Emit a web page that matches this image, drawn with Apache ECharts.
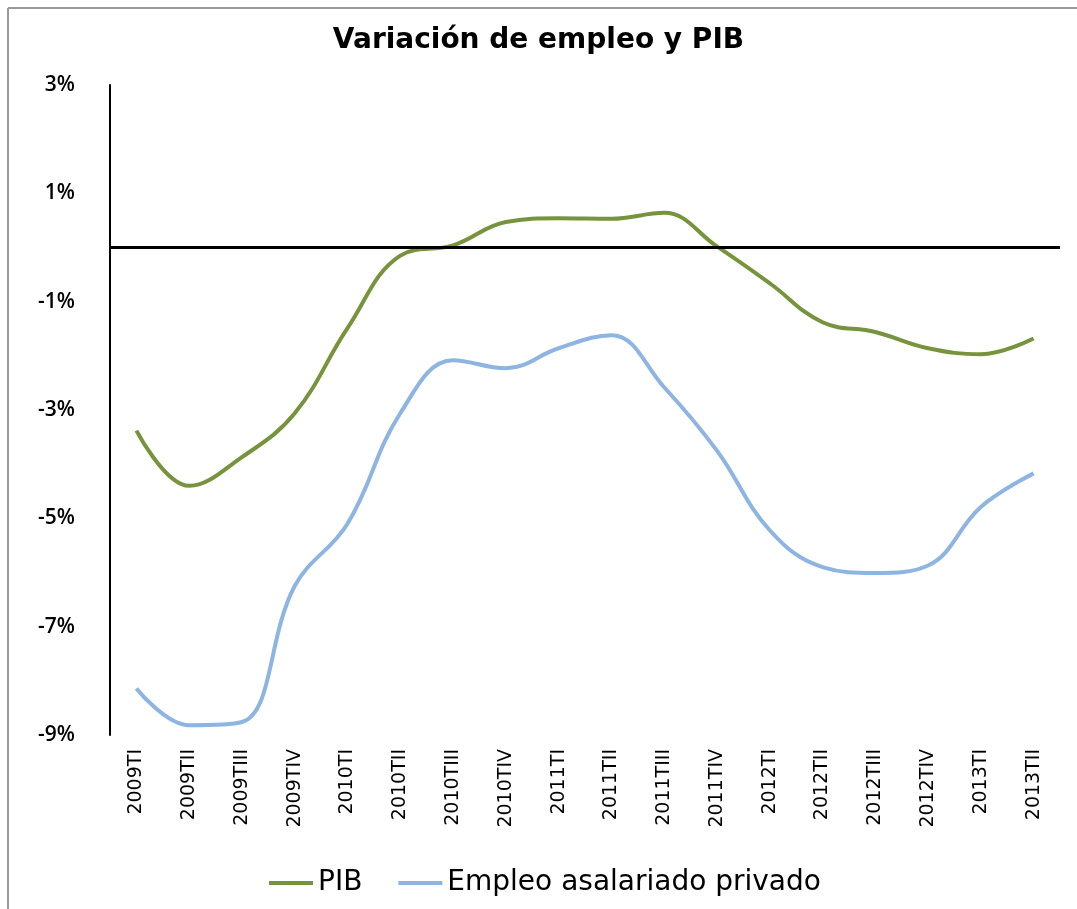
<!DOCTYPE html>
<html>
<head>
<meta charset="utf-8">
<title>Variación de empleo y PIB</title>
<script src="https://cdn.jsdelivr.net/npm/echarts@6/dist/echarts.min.js"></script>
<style>
  html, body { margin: 0; padding: 0; background: #fff; }
  #main { width: 1077px; height: 909px; }
</style>
</head>
<body>
<div id="main"></div>
<script>
const quarters = [
  "2009TI", "2009TII", "2009TIII", "2009TIV",
  "2010TI", "2010TII", "2010TIII", "2010TIV",
  "2011TI", "2011TII", "2011TIII", "2011TIV",
  "2012TI", "2012TII", "2012TIII", "2012TIV",
  "2013TI", "2013TII"
];
const pib = [
  -3.38, -4.40, -3.87, -3.06,
  -1.49, -0.15, 0.04, 0.47,
  0.54, 0.53, 0.64, 0.02,
  -0.66, -1.38, -1.56, -1.86,
  -1.97, -1.68
];
const empleo = [
  -8.14, -8.82, -8.76, -6.25,
  -5.10, -3.06, -2.08, -2.23,
  -1.86, -1.62, -2.58, -3.75,
  -5.22, -5.90, -6.01, -5.87,
  -4.79, -4.17
];
const yTicks = [-9, -7, -5, -3, -1, 1, 3];

const font = "'Open Sans', 'Liberation Sans', sans-serif";
const wide = "'DejaVu Sans', sans-serif";
const chart = echarts.init(document.getElementById("main"));

chart.setOption({
  backgroundColor: "#fff",
  animation: false,
  title: {
    text: "Variación de empleo y PIB",
    left: "center",
    top: 22,
    textStyle: { fontFamily: wide, fontSize: 28, fontWeight: "bold", color: "#000" }
  },
  legend: {
    bottom: 7,
    left: 264,
    itemWidth: 44,
    itemHeight: 4,
    itemGap: 36,
    icon: "rect",
    textStyle: { fontFamily: wide, fontSize: 28, color: "#000" },
    data: ["PIB", "Empleo asalariado privado"]
  },
  grid: { left: 110, right: 17, top: 85, bottom: 174 },
  xAxis: {
    type: "category",
    data: quarters,
    boundaryGap: true,
    axisLine: { show: false },
    axisTick: { show: false },
    axisLabel: {
      rotate: 90,
      margin: 14,
      interval: 0,
      fontFamily: wide,
      fontSize: 19,
      color: "#000"
    }
  },
  yAxis: {
    type: "value",
    min: -9,
    max: 3,
    interval: 2,
    splitLine: { show: false },
    axisTick: { show: false },
    axisLine: { show: true, lineStyle: { color: "#000", width: 2 } },
    axisLabel: {
      margin: 35,
      fontFamily: font,
      fontSize: 21,
      fontWeight: 600,
      color: "#000",
      customValues: yTicks,
      formatter: v => v + "%"
    }
  },
  graphic: [
    { type: "line", shape: { x1: 8, y1: 8, x2: 1077, y2: 8 }, style: { stroke: "#9a9a9a", lineWidth: 2 } },
    { type: "line", shape: { x1: 8, y1: 8, x2: 8, y2: 909 }, style: { stroke: "#9a9a9a", lineWidth: 2 } }
  ],
  series: [
    {
      name: "PIB",
      type: "line",
      data: pib,
      smooth: 0.4,
      symbol: "none",
      lineStyle: { color: "#77933C", width: 4 },
      itemStyle: { color: "#77933C" },
      markLine: {
        silent: true,
        symbol: "none",
        label: { show: false },
        lineStyle: { color: "#000", width: 3, type: "solid" },
        data: [{ yAxis: 0 }]
      }
    },
    {
      name: "Empleo asalariado privado",
      type: "line",
      data: empleo,
      smooth: 0.4,
      symbol: "none",
      lineStyle: { color: "#8DB4E2", width: 4 },
      itemStyle: { color: "#8DB4E2" }
    }
  ]
});

window.onresize = chart.resize;
</script>
</body>
</html>
